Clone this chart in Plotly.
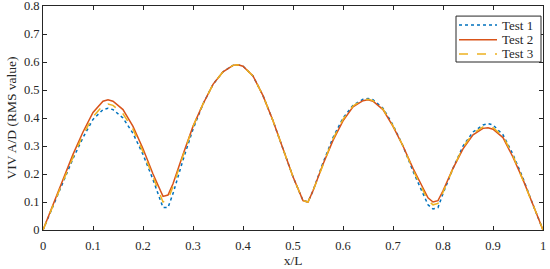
import plotly.graph_objects as go

# --- Data ---
x_over_l = [0, .02, .04, .06, .08, .10, .12, .13, .14, .16, .18, .20, .22, .24, .25, .26,
            .28, .30, .32, .34, .36, .38, .39, .40, .42, .44, .46, .48, .50, .52, .53, .54,
            .56, .58, .60, .62, .64, .65, .66, .68, .70, .72, .74, .76, .77, .78, .79, .80,
            .82, .84, .86, .88, .89, .90, .92, .94, .96, .98, 1.0]

test_1 = [0, .085, .17, .255, .33, .395, .43, .435, .43, .40, .345, .27, .18, .08, .08, .13,
          .25, .36, .45, .52, .565, .588, .59, .585, .55, .48, .39, .29, .19, .105, .10, .14,
          .24, .33, .40, .445, .467, .47, .465, .435, .375, .30, .21, .13, .09, .075, .08, .13,
          .22, .30, .35, .375, .38, .375, .34, .27, .185, .09, 0]

test_2 = [0, .09, .18, .27, .35, .42, .46, .465, .46, .43, .37, .29, .20, .12, .125, .165,
          .27, .37, .45, .52, .565, .588, .59, .585, .55, .48, .39, .29, .19, .105, .10, .14,
          .235, .32, .39, .44, .462, .465, .46, .43, .37, .30, .22, .15, .115, .10, .105, .14,
          .22, .29, .34, .363, .365, .36, .33, .26, .18, .09, 0]

test_3 = [0, .088, .175, .26, .34, .405, .445, .45, .445, .415, .36, .28, .19, .10, .11, .155,
          .265, .37, .45, .52, .565, .588, .59, .585, .55, .48, .39, .29, .19, .105, .10, .14,
          .235, .325, .395, .443, .465, .467, .462, .432, .372, .30, .215, .14, .105, .09, .095, .135,
          .22, .295, .345, .368, .37, .365, .335, .265, .18, .09, 0]

x_ticks = [0, .1, .2, .3, .4, .5, .6, .7, .8, .9, 1]
x_tick_labels = ["0", "0.1", "0.2", "0.3", "0.4", "0.5", "0.6", "0.7", "0.8", "0.9", "1"]
y_ticks = [0, .1, .2, .3, .4, .5, .6, .7, .8]
y_tick_labels = ["0", "0.1", "0.2", "0.3", "0.4", "0.5", "0.6", "0.7", "0.8"]

series = [
    ("Test 1", test_1, "#0072BD", "dot"),
    ("Test 2", test_2, "#D95319", "solid"),
    ("Test 3", test_3, "#EDB120", "dash"),
]

FONT = "Liberation Serif, Times New Roman, serif"
INK = "#262626"

fig = go.Figure()
for name, vals, color, dash in series:
    fig.add_trace(
        go.Scatter(
            x=x_over_l,
            y=vals,
            mode="lines",
            name=name,
            showlegend=False,
            line=dict(color=color, width=1.5, dash=dash),
        )
    )

# --- Legend drawn by hand so rows sit as tight as in the reference ---
fig.add_shape(
    type="rect", xref="paper", yref="paper",
    x0=0.826, x1=0.996, y0=0.75, y1=0.955,
    line=dict(color=INK, width=1), fillcolor="white", layer="above",
)
row_y = [0.915, 0.849, 0.786]
for (name, _, color, dash), ry in zip(series, row_y):
    fig.add_shape(
        type="line", xref="paper", yref="paper",
        x0=0.832, x1=0.908, y0=ry, y1=ry,
        line=dict(color=color, width=1.5, dash=dash), layer="above",
    )
    fig.add_annotation(
        xref="paper", yref="paper", x=0.913, y=ry,
        text=name, showarrow=False, xanchor="left", yanchor="middle",
        font=dict(family=FONT, size=13, color=INK),
    )

axis_style = dict(
    showline=True,
    linecolor=INK,
    linewidth=1,
    mirror="ticks",
    ticks="inside",
    ticklen=4,
    tickcolor=INK,
    showgrid=False,
    zeroline=False,
    automargin=False,
    ticklabeloverflow="allow",
    tickfont=dict(family=FONT, size=12.5, color=INK),
)

fig.update_layout(
    width=550,
    height=269,
    margin=dict(l=43, r=7, t=6, b=39),
    paper_bgcolor="white",
    plot_bgcolor="white",
    font=dict(family=FONT, color=INK),
    showlegend=False,
    xaxis=dict(
        range=[0, 1],
        tickvals=x_ticks,
        ticktext=x_tick_labels,
        ticklabelstandoff=4,
        title=dict(text="x/L", font=dict(family=FONT, size=13.5), standoff=2),
        **axis_style,
    ),
    yaxis=dict(
        range=[0, 0.8],
        tickvals=y_ticks,
        ticktext=y_tick_labels,
        title=dict(text="VIV A/D (RMS value)", font=dict(family=FONT, size=13.5), standoff=4),
        **axis_style,
    ),
)

# page body has a default 8px margin; drop it so the figure fills the window
fig.write_html(
    "out.html",
    config={"displayModeBar": False},
    post_script="document.body.style.margin='0';",
)
